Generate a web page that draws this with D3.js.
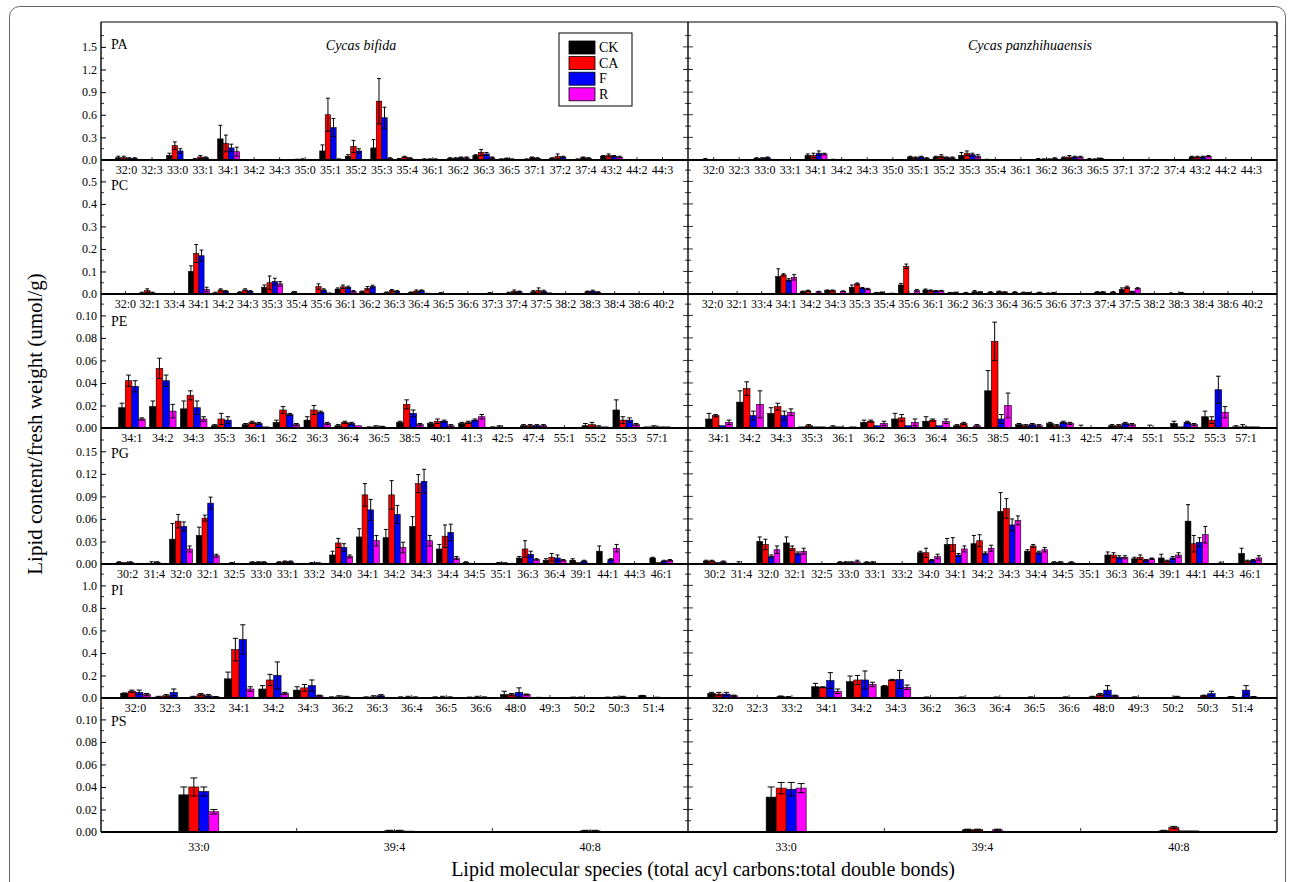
<!DOCTYPE html>
<html>
<head>
<meta charset="utf-8">
<script src="https://cdn.jsdelivr.net/npm/d3@7"></script>
<style>
  body { margin: 0; background: #fff; }
  svg text { font-family: "Liberation Serif", "Times New Roman", serif; fill: #000; }
</style>
</head>
<body>
<svg id="chart" width="1290" height="882"></svg>
<script>
const treatments = ["CK", "CA", "F", "R"]
const colours = ["#000000", "#ff0000", "#0000ff", "#ff00ff"]
const species = ["Cycas bifida", "Cycas panzhihuaensis"]

// PA
const paCats = ["32:0","32:3","33:0","33:1","34:1","34:2","34:3","35:0","35:1","35:2","35:3","35:4","36:1","36:2","36:3","36:5","37:1","37:2","37:4","43:2","44:2","44:3"]
const paTicks = [0, 0.3, 0.6, 0.9, 1.2, 1.5]
const paBifida = [[0.03,0.03,0.02,0.02],[0.003,0.003,0.002,0.002],[0.06,0.19,0.12,0.005],[0.01,0.04,0.03,0.01],[0.28,0.22,0.16,0.11],[0.003,0.004,0.003,0.002],[0.003,0.004,0.003,0.002],[0.005,0.01,0.01,0.003],[0.12,0.60,0.43,0.01],[0.05,0.18,0.12,0.005],[0.16,0.78,0.56,0.02],[0.01,0.04,0.02,0.01],[0.01,0.01,0.01,0.003],[0.02,0.02,0.03,0.03],[0.06,0.10,0.08,0.03],[0.01,0.02,0.01,0.003],[0.01,0.03,0.02,0.003],[0.02,0.05,0.04,0.003],[0.01,0.03,0.02,0.003],[0.05,0.06,0.05,0.04],[0.002,0.002,0.002,0.001],[0.002,0.002,0.002,0.001]]
const paBifidaErr = [[0.02,0.02,0.01,0.01],[0,0,0,0],[0.03,0.05,0.03,0],[0.01,0.02,0.01,0],[0.18,0.11,0.05,0.06],[0,0,0,0],[0,0,0,0],[0.005,0.005,0,0],[0.08,0.22,0.12,0.005],[0.02,0.08,0.03,0],[0.11,0.30,0.14,0.01],[0.01,0.01,0.01,0],[0.005,0.005,0.005,0],[0.01,0.01,0.01,0.01],[0.01,0.04,0.02,0.01],[0.005,0.005,0.005,0],[0.005,0.01,0.01,0],[0.01,0.03,0.01,0],[0.005,0.01,0.01,0],[0.01,0.02,0.01,0.01],[0,0,0,0],[0,0,0,0]]
const paPanzhi = [[0.01,0.005,0.005,0.003],[0.002,0.002,0.002,0.001],[0.02,0.02,0.03,0.01],[0.002,0.002,0.002,0.001],[0.06,0.06,0.09,0.08],[0.005,0.004,0.003,0.002],[0.002,0.002,0.002,0.001],[0.002,0.002,0.002,0.001],[0.04,0.03,0.04,0.02],[0.04,0.05,0.03,0.03],[0.06,0.09,0.07,0.05],[0.005,0.004,0.003,0.002],[0.002,0.002,0.002,0.001],[0.01,0.01,0.01,0.02],[0.03,0.04,0.04,0.04],[0.01,0.01,0.02,0.01],[0.002,0.002,0.002,0.001],[0.002,0.002,0.002,0.001],[0.002,0.002,0.002,0.001],[0.04,0.04,0.04,0.05],[0.002,0.002,0.002,0.001],[0.002,0.002,0.002,0.001]]
const paPanzhiErr = [[0.01,0,0,0],[0,0,0,0],[0.01,0.01,0.01,0],[0,0,0,0],[0.02,0.03,0.03,0.01],[0.005,0,0,0],[0,0,0,0],[0,0,0,0],[0.01,0.01,0.01,0.01],[0.01,0.02,0.01,0.01],[0.04,0.03,0.02,0.02],[0.005,0,0,0],[0,0,0,0],[0.01,0.005,0.005,0.01],[0.01,0.02,0.01,0.01],[0.01,0.005,0.005,0],[0,0,0,0],[0,0,0,0],[0,0,0,0],[0.01,0.01,0.01,0.01],[0,0,0,0],[0,0,0,0]]

// PC
const pcCats = ["32:0","32:1","33:4","34:1","34:2","34:3","35:3","35:4","35:6","36:1","36:2","36:3","36:4","36:5","36:6","37:3","37:4","37:5","38:2","38:3","38:4","38:6","40:2"]
const pcTicks = [0, 0.1, 0.2, 0.3, 0.4, 0.5]
const pcBifida = [[0.002,0.002,0.002,0.001],[0.005,0.015,0.005,0.001],[0.002,0.002,0.002,0.001],[0.10,0.18,0.17,0.02],[0.005,0.018,0.012,0.003],[0.007,0.018,0.012,0.003],[0.03,0.05,0.055,0.045],[0.002,0.008,0.003,0.001],[0.002,0.033,0.018,0.005],[0.022,0.032,0.03,0.012],[0.01,0.025,0.033,0.003],[0.006,0.015,0.012,0.002],[0.006,0.013,0.015,0.004],[0.002,0.004,0.003,0.001],[0.002,0.002,0.002,0.001],[0.002,0.004,0.002,0.001],[0.005,0.012,0.01,0.003],[0.01,0.015,0.012,0.005],[0.002,0.002,0.002,0.001],[0.003,0.01,0.013,0.008],[0.002,0.002,0.002,0.001],[0.001,0.001,0.001,0.001],[0.001,0.001,0.001,0.001]]
const pcBifidaErr = [[0,0,0,0],[0.003,0.008,0.003,0],[0,0,0,0],[0.025,0.04,0.025,0.01],[0.003,0.005,0.003,0],[0.003,0.005,0.003,0],[0.01,0.03,0.015,0.01],[0,0.003,0,0],[0,0.012,0.005,0],[0.005,0.008,0.005,0.003],[0.003,0.008,0.006,0],[0.003,0.005,0.003,0],[0.003,0.005,0.003,0],[0,0.002,0,0],[0,0,0,0],[0,0.002,0,0],[0.003,0.006,0.003,0],[0.005,0.012,0.005,0],[0,0,0,0],[0,0.003,0.004,0.002],[0,0,0,0],[0,0,0,0],[0,0,0,0]]
const pcPanzhi = [[0.001,0.001,0.001,0.001],[0.001,0.001,0.001,0.001],[0.001,0.001,0.001,0.001],[0.077,0.085,0.062,0.074],[0.01,0.014,0.001,0.01],[0.015,0.015,0.001,0.012],[0.03,0.045,0.026,0.022],[0.005,0.007,0.001,0.004],[0.04,0.123,0.001,0.015],[0.018,0.015,0.013,0.014],[0.005,0.006,0.001,0.005],[0.01,0.008,0.001,0.008],[0.01,0.008,0.001,0.008],[0.006,0.005,0.001,0.006],[0.003,0.005,0.001,0.003],[0.002,0.002,0.001,0.002],[0.008,0.008,0.001,0.008],[0.02,0.03,0.01,0.025],[0.001,0.001,0.001,0.001],[0.003,0.001,0.005,0.002],[0.001,0.001,0.001,0.001],[0.001,0.001,0.001,0.001],[0.001,0.001,0.001,0.001]]
const pcPanzhiErr = [[0,0,0,0],[0,0,0,0],[0,0,0,0],[0.035,0.005,0.006,0.012],[0.003,0.003,0,0.002],[0.003,0.003,0,0.002],[0.01,0.004,0.003,0.003],[0.002,0.002,0,0],[0.007,0.01,0,0.005],[0.004,0.003,0.002,0.002],[0.002,0.002,0,0.002],[0.005,0.002,0,0.002],[0.003,0.002,0,0.002],[0.002,0.002,0,0.002],[0.002,0.002,0,0],[0,0,0,0],[0.002,0.002,0,0.002],[0.007,0.005,0.002,0.003],[0,0,0,0],[0.002,0,0.002,0],[0,0,0,0],[0,0,0,0],[0,0,0,0]]

// PE
const peCats = ["34:1","34:2","34:3","35:3","36:1","36:2","36:3","36:4","36:5","38:5","40:1","41:3","42:5","47:4","55:1","55:2","55:3","57:1"]
const peTicks = [0, 0.02, 0.04, 0.06, 0.08, 0.10]
const peBifida = [[0.018,0.042,0.037,0.008],[0.019,0.053,0.042,0.015],[0.017,0.029,0.018,0.008],[0.002,0.008,0.007,0.0005],[0.003,0.005,0.004,0.001],[0.005,0.016,0.012,0.003],[0.007,0.016,0.014,0.004],[0.002,0.005,0.004,0.002],[0.0005,0.001,0.001,0.0005],[0.005,0.021,0.013,0.003],[0.004,0.006,0.006,0.002],[0.004,0.005,0.007,0.010],[0.0005,0.001,0.0005,0.0003],[0.002,0.002,0.002,0.002],[0.0005,0.0005,0.0005,0.0005],[0.002,0.003,0.001,0.001],[0.016,0.007,0.007,0.003],[0.001,0.001,0.001,0.001]]
const peBifidaErr = [[0.004,0.005,0.005,0.001],[0.005,0.009,0.005,0.006],[0.007,0.004,0.006,0.002],[0.001,0.005,0.003,0],[0.001,0.001,0.001,0],[0.002,0.003,0.001,0.001],[0.003,0.004,0.001,0.001],[0.001,0.001,0.001,0],[0.0005,0.001,0.0005,0],[0.001,0.004,0.003,0.001],[0.001,0.002,0.001,0.001],[0.001,0.001,0.001,0.002],[0.0005,0.001,0,0],[0.001,0.001,0.001,0.001],[0,0,0,0],[0.002,0.002,0.001,0],[0.009,0.003,0.002,0.001],[0,0.001,0,0]]
const pePanzhi = [[0.008,0.011,0.002,0.005],[0.023,0.035,0.011,0.021],[0.013,0.019,0.011,0.014],[0.001,0.002,0.001,0.001],[0.001,0.001,0.0005,0.001],[0.005,0.006,0.002,0.004],[0.008,0.009,0.002,0.005],[0.006,0.007,0.002,0.006],[0.002,0.004,0.0005,0.002],[0.033,0.077,0.008,0.02],[0.003,0.002,0.003,0.002],[0.004,0.002,0.005,0.004],[0.0005,0.0005,0.0005,0.0005],[0.002,0.002,0.004,0.003],[0.0005,0.0005,0.0005,0.0005],[0.004,0.001,0.005,0.003],[0.01,0.007,0.034,0.014],[0.001,0.001,0.001,0.001]]
const pePanzhiErr = [[0.005,0.001,0,0.002],[0.01,0.006,0.004,0.012],[0.005,0.003,0.004,0.003],[0,0.001,0,0],[0.001,0,0,0],[0.002,0.001,0,0.002],[0.005,0.003,0,0.003],[0.004,0.001,0,0.002],[0.001,0.001,0,0.001],[0.018,0.017,0.004,0.011],[0.001,0.001,0.001,0.001],[0.001,0.001,0.001,0.001],[0.002,0,0,0],[0.001,0.001,0.001,0.001],[0,0.002,0,0],[0.002,0,0.001,0.001],[0.005,0.003,0.012,0.005],[0.001,0.002,0,0]]

// PG
const pgCats = ["30:2","31:4","32:0","32:1","32:5","33:0","33:1","33:2","34:0","34:1","34:2","34:3","34:4","34:5","35:1","36:3","36:4","39:1","44:1","44:3","46:1"]
const pgTicks = [0, 0.03, 0.06, 0.09, 0.12, 0.15]
const pgBifida = [[0.002,0.002,0.002,0.001],[0.001,0.001,0.002,0.001],[0.033,0.057,0.050,0.020],[0.038,0.061,0.081,0.011],[0.0005,0.001,0.001,0.0005],[0.002,0.002,0.002,0.001],[0.002,0.003,0.003,0.001],[0.001,0.001,0.002,0.001],[0.012,0.028,0.022,0.010],[0.036,0.092,0.072,0.031],[0.035,0.092,0.066,0.022],[0.050,0.107,0.110,0.031],[0.020,0.037,0.042,0.008],[0.002,0.001,0.001,0.001],[0.001,0.001,0.002,0.001],[0.008,0.020,0.013,0.006],[0.005,0.009,0.008,0.005],[0.005,0.002,0.004,0.001],[0.017,0.001,0.006,0.021],[0.0005,0.0005,0.0005,0.0005],[0.008,0.002,0.004,0.005]]
const pgBifidaErr = [[0.001,0,0.001,0],[0,0.002,0.001,0],[0.021,0.009,0.006,0.004],[0.011,0.004,0.008,0.002],[0,0.001,0,0],[0.001,0.001,0.001,0],[0.001,0.001,0.001,0],[0,0.001,0,0],[0.005,0.006,0.005,0.002],[0.011,0.015,0.014,0.007],[0.011,0.019,0.012,0.007],[0.013,0.012,0.016,0.007],[0.006,0.015,0.011,0.002],[0.001,0,0,0],[0,0.001,0,0],[0.002,0.011,0.004,0.001],[0.002,0.005,0.004,0.001],[0.002,0,0.001,0],[0.007,0,0.001,0.005],[0,0,0,0],[0.001,0,0.001,0.001]]
const pgPanzhi = [[0.004,0.004,0.002,0.003],[0.001,0.001,0.0005,0.0005],[0.030,0.026,0.010,0.019],[0.028,0.021,0.014,0.017],[0.0005,0.0005,0.0005,0.0005],[0.002,0.002,0.002,0.003],[0.002,0.002,0.001,0.001],[0.001,0.001,0.001,0.001],[0.015,0.015,0.005,0.010],[0.026,0.026,0.012,0.020],[0.027,0.031,0.014,0.021],[0.070,0.074,0.052,0.058],[0.017,0.024,0.015,0.019],[0.002,0.002,0.001,0.002],[0.0005,0.0005,0.0005,0.0005],[0.012,0.012,0.009,0.009],[0.007,0.009,0.005,0.007],[0.008,0.004,0.008,0.012],[0.057,0.027,0.029,0.039],[0.0005,0.0005,0.0005,0.0005],[0.014,0.004,0.005,0.008]]
const pgPanzhiErr = [[0.001,0.001,0,0.001],[0,0.002,0,0],[0.006,0.007,0.002,0.005],[0.008,0.003,0.002,0.004],[0,0,0,0],[0.001,0.001,0.001,0.002],[0.001,0.001,0,0],[0,0,0,0],[0.002,0.006,0.001,0.003],[0.008,0.009,0.002,0.004],[0.011,0.008,0.002,0.004],[0.025,0.013,0.008,0.006],[0.002,0.002,0.002,0.003],[0.001,0.001,0,0.001],[0,0,0,0],[0.004,0.003,0.002,0.002],[0.002,0.003,0.001,0.001],[0.005,0.001,0.002,0.003],[0.022,0.011,0.006,0.011],[0,0.002,0,0],[0.007,0.001,0.001,0.003]]

// PI
const piCats = ["32:0","32:3","33:2","34:1","34:2","34:3","36:2","36:3","36:4","36:5","36:6","48:0","49:3","50:2","50:3","51:4"]
const piTicks = [0, 0.2, 0.4, 0.6, 0.8, 1.0]
const piBifida = [[0.04,0.06,0.05,0.03],[0.01,0.02,0.05,0.005],[0.01,0.03,0.02,0.01],[0.17,0.43,0.52,0.08],[0.08,0.16,0.20,0.04],[0.07,0.09,0.11,0.02],[0.005,0.01,0.01,0.005],[0.005,0.01,0.02,0.005],[0.005,0.005,0.005,0.002],[0.005,0.005,0.005,0.002],[0.003,0.005,0.005,0.002],[0.03,0.03,0.05,0.03],[0.003,0.003,0.003,0.002],[0.005,0.003,0.002,0.001],[0.005,0.005,0.01,0.005],[0.02,0.005,0.005,0.005]]
const piBifidaErr = [[0.005,0.01,0.02,0.01],[0.005,0.01,0.03,0],[0.005,0.01,0.01,0.003],[0.06,0.10,0.13,0.02],[0.03,0.05,0.12,0.01],[0.03,0.03,0.05,0.005],[0.005,0.01,0.005,0],[0.005,0.01,0.01,0],[0.005,0.01,0.005,0],[0.005,0.01,0.005,0],[0.005,0.01,0.005,0],[0.03,0.01,0.04,0.005],[0.003,0,0,0],[0.003,0.005,0,0],[0.003,0.005,0.005,0],[0.003,0,0.002,0]]
const piPanzhi = [[0.04,0.035,0.035,0.02],[0.005,0.005,0.005,0.003],[0.015,0.003,0.001,0.001],[0.10,0.095,0.155,0.06],[0.145,0.16,0.16,0.12],[0.105,0.16,0.165,0.095],[0.004,0.004,0.004,0.003],[0.004,0.004,0.004,0.003],[0.004,0.004,0.004,0.003],[0.005,0.005,0.005,0.003],[0.004,0.005,0.004,0.003],[0.01,0.03,0.07,0.02],[0.005,0.005,0.005,0.003],[0.005,0.001,0.01,0.005],[0.002,0.02,0.04,0.005],[0.01,0.005,0.07,0.01]]
const piPanzhiErr = [[0.01,0.015,0.015,0.005],[0,0,0,0],[0.003,0.01,0,0],[0.03,0.005,0.07,0.02],[0.05,0.04,0.08,0.02],[0.005,0.005,0.08,0.02],[0,0.005,0,0],[0,0.005,0,0],[0,0.005,0,0],[0,0.005,0,0],[0,0.005,0,0],[0.005,0.01,0.04,0.005],[0,0.005,0,0],[0,0,0.005,0],[0,0.005,0.02,0],[0.003,0,0.04,0.003]]

// PS
const psCats = ["33:0","39:4","40:8"]
const psTicks = [0, 0.02, 0.04, 0.06, 0.08, 0.10]
const psBifida = [[0.033,0.040,0.036,0.018],[0.0005,0.001,0.001,0.0008],[0.0005,0.001,0.001,0.0005]]
const psBifidaErr = [[0.007,0.008,0.004,0.002],[0,0.0005,0.0005,0],[0,0.0005,0.0005,0]]
const psPanzhi = [[0.031,0.039,0.038,0.039],[0.002,0.002,0.0003,0.002],[0.001,0.004,0.001,0.001]]
const psPanzhiErr = [[0.009,0.005,0.006,0.004],[0.0005,0.0005,0,0.0005],[0.0005,0.001,0,0]]

const panels = [
  {name: "PA", cats: paCats, ticks: paTicks, yMax: 1.83, fmt: ".1f", sets: [paBifida, paPanzhi], errs: [paBifidaErr, paPanzhiErr], pad: 1, labelDy: 27},
  {name: "PC", cats: pcCats, ticks: pcTicks, yMax: 0.595, fmt: ".1f", sets: [pcBifida, pcPanzhi], errs: [pcBifidaErr, pcPanzhiErr], pad: 1, labelDy: 30},
  {name: "PE", cats: peCats, ticks: peTicks, yMax: 0.119, fmt: ".2f", sets: [peBifida, pePanzhi], errs: [peBifidaErr, pePanzhiErr], pad: 1, labelDy: 32},
  {name: "PG", cats: pgCats, ticks: pgTicks, yMax: 0.181, fmt: ".2f", sets: [pgBifida, pgPanzhi], errs: [pgBifidaErr, pgPanzhiErr], pad: 1, labelDy: 30},
  {name: "PI", cats: piCats, ticks: piTicks, yMax: 1.19, fmt: ".1f", sets: [piBifida, piPanzhi], errs: [piBifidaErr, piPanzhiErr], pad: 1, labelDy: 31},
  {name: "PS", cats: psCats, ticks: psTicks, yMax: 0.119, fmt: ".2f", sets: [psBifida, psPanzhi], errs: [psBifidaErr, psPanzhiErr], pad: 0.5, labelDy: 28}
]

const svg = d3.select("#chart")
const plotLeft = 101, plotMid = 688, plotRight = 1277, plotTop = 22
const baseLines = [160, 294, 428, 564, 698, 832]

// outer figure border
svg.append("rect")
  .attr("x", 9.5).attr("y", 6.5).attr("width", 1276).attr("height", 900).attr("rx", 10)
  .attr("fill", "none").attr("stroke", "#666").attr("stroke-width", 1)

const drawBars = (g, cats, values, errors, x0, x1, y, pad) => {
  const x = d3.scalePoint().domain(cats).range([x0, x1]).padding(pad)
  const bw = Math.min(x.step() * 0.215, 10)
  const items = []
  cats.forEach((c, i) => values[i].forEach((v, k) => items.push({c, k, v, e: errors[i][k]})))
  const bx = d => x(d.c) + (d.k - 2) * bw

  g.selectAll(null).data(items).enter().append("rect")
    .attr("x", bx)
    .attr("y", d => y(d.v))
    .attr("width", bw)
    .attr("height", d => y(0) - y(d.v))
    .attr("fill", d => colours[d.k])
    .attr("stroke", "#000")
    .attr("stroke-width", 0.6)

  // error bars (plus and minus, with caps)
  const eb = items.filter(d => d.e > 0)
  const cap = bw * 0.35
  g.selectAll(null).data(eb).enter().append("path")
    .attr("d", d => {
      const cx = bx(d) + bw / 2
      const hi = y(d.v + d.e), lo = y(Math.max(0, d.v - d.e))
      return `M${cx},${lo}V${hi}M${cx - cap},${hi}H${cx + cap}M${cx - cap},${lo}H${cx + cap}`
    })
    .attr("stroke", "#000")
    .attr("stroke-width", 1)
    .attr("fill", "none")

  // ticks and category labels
  g.selectAll(null).data(cats).enter().append("line")
    .attr("x1", d => x(d)).attr("x2", d => x(d))
    .attr("y1", y(0)).attr("y2", y(0) - 3)
    .attr("stroke", "#000").attr("stroke-width", 0.8)
  g.selectAll(null).data(cats).enter().append("text")
    .attr("x", d => x(d))
    .attr("y", y(0) + (pad < 1 ? 19 : 14))
    .attr("text-anchor", "middle")
    .style("font-size", "12px")
    .text(d => d)
  if (pad < 1) {
    const bounds = d3.pairs(cats).map(([a, b]) => (x(a) + x(b)) / 2)
    g.selectAll(null).data(bounds).enter().append("line")
      .attr("x1", d => d).attr("x2", d => d)
      .attr("y1", y(0)).attr("y2", y(0) - 4)
      .attr("stroke", "#000").attr("stroke-width", 0.8)
  }
}

panels.forEach((p, row) => {
  const y0 = baseLines[row]
  const y1 = row === 0 ? plotTop : baseLines[row - 1]
  const y = d3.scaleLinear().domain([0, p.yMax]).range([y0, y1])
  const g = svg.append("g")

  const step = p.ticks[1] - p.ticks[0]
  const minor = d3.range(0, p.yMax, step / 2).filter((v, i) => i % 2 === 1)

  // y axis with inward ticks
  const axis = g.append("g")
    .attr("transform", `translate(${plotLeft},0)`)
    .call(d3.axisLeft(y).tickValues(p.ticks).tickSize(-5).tickPadding(4).tickFormat(d3.format(p.fmt)))
  axis.select(".domain").remove()
  axis.attr("font-family", null)
  axis.selectAll("text").style("font-size", "12px")

  // other inward ticks (minor left, both sides of divider, right edge)
  const tickSpecs = []
  minor.forEach(v => tickSpecs.push({x: plotLeft, dir: 1, len: 3, v}))
  p.ticks.concat(minor).forEach(v => {
    const len = p.ticks.includes(v) ? 5 : 3
    tickSpecs.push({x: plotMid, dir: -1, len, v})
    tickSpecs.push({x: plotMid, dir: 1, len, v})
    tickSpecs.push({x: plotRight, dir: -1, len, v})
  })
  g.selectAll(null).data(tickSpecs).enter().append("line")
    .attr("x1", d => d.x).attr("x2", d => d.x + d.dir * d.len)
    .attr("y1", d => y(d.v)).attr("y2", d => y(d.v))
    .attr("stroke", "#000").attr("stroke-width", 0.8)

  drawBars(g, p.cats, p.sets[0], p.errs[0], plotLeft, plotMid, y, p.pad)
  drawBars(g, p.cats, p.sets[1], p.errs[1], plotMid, plotRight, y, p.pad)

  // zero line
  g.append("line")
    .attr("x1", plotLeft).attr("x2", plotRight).attr("y1", y0).attr("y2", y0)
    .attr("stroke", "#000").attr("stroke-width", 1.8)

  g.append("text")
    .attr("x", 111).attr("y", y1 + p.labelDy)
    .style("font-size", "14px")
    .text(p.name)
})

// frame
svg.append("line").attr("x1", plotLeft).attr("x2", plotRight).attr("y1", plotTop).attr("y2", plotTop)
  .attr("stroke", "#000").attr("stroke-width", 1.2)
;[plotLeft, plotMid, plotRight].forEach(xv => {
  svg.append("line").attr("x1", xv).attr("x2", xv).attr("y1", plotTop).attr("y2", baseLines[5])
    .attr("stroke", "#000").attr("stroke-width", 1.4)
})

// species titles
svg.append("text").attr("x", 361).attr("y", 50).attr("text-anchor", "middle")
  .style("font-size", "14px").style("font-style", "italic").text(species[0])
svg.append("text").attr("x", 1030).attr("y", 50).attr("text-anchor", "middle")
  .style("font-size", "14px").style("font-style", "italic").text(species[1])

// legend
const legend = svg.append("g").attr("transform", "translate(559,33)")
legend.append("rect").attr("width", 73).attr("height", 73)
  .attr("fill", "#fff").attr("stroke", "#000").attr("stroke-width", 1)
legend.selectAll(null).data(treatments).enter().append("rect")
  .attr("x", 10).attr("y", (d, i) => 8 + i * 15.6)
  .attr("width", 26).attr("height", 13)
  .attr("fill", (d, i) => colours[i]).attr("stroke", "#000").attr("stroke-width", 0.8)
legend.selectAll(null).data(treatments).enter().append("text")
  .attr("x", 40).attr("y", (d, i) => 19 + i * 15.6)
  .style("font-size", "14px")
  .text(d => d)

// axis titles
svg.append("text")
  .attr("transform", "translate(42,424) rotate(-90)")
  .attr("text-anchor", "middle")
  .style("font-size", "21px")
  .text("Lipid content/fresh weight (umol/g)")
svg.append("text")
  .attr("x", 703).attr("y", 876)
  .attr("text-anchor", "middle")
  .style("font-size", "20px")
  .text("Lipid molecular species (total acyl carbons:total double bonds)")
</script>
</body>
</html>
